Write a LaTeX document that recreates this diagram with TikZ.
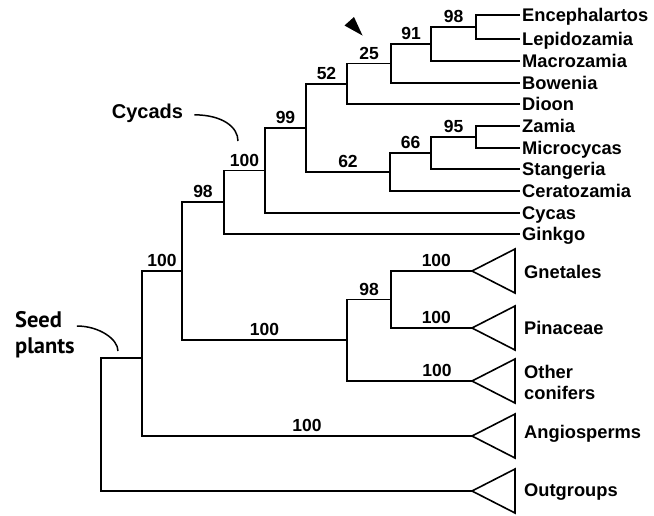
\documentclass[tikz,border=0pt]{standalone}
\usepackage{fontspec}
\newfontfamily\taxfont{Liberation Sans}
\newfontfamily\grpfont{PT Sans}
\begin{document}
\begin{tikzpicture}[x=1pt, y=-1pt, line join=miter,
    branch/.style={line width=1.6pt},
    lead/.style={line width=1.5pt},
    tax/.style={anchor=west, inner xsep=2pt, inner ysep=0pt, text height=13pt, text depth=0pt,
      font=\taxfont\bfseries\fontsize{18.3}{20}\selectfont},
    grp/.style={anchor=west, inner sep=0pt, align=left,
      font=\taxfont\bfseries\fontsize{18.3}{21}\selectfont},
    bs/.style={anchor=south, inner sep=0pt, yshift=3.5pt, pos=0.75,
      font=\taxfont\bfseries\fontsize{17.5}{18}\selectfont},
    lbl/.style={inner sep=0pt, align=left, font=\grpfont\bfseries\fontsize{22.5}{26}\selectfont}]
  \useasboundingbox (0,0) rectangle (654,515);
  \node[tax] (tEnc) at (520,15) {Encephalartos};
  \node[tax] (tLep) at (520,39) {Lepidozamia};
  \node[tax] (tMac) at (520,61) {Macrozamia};
  \node[tax] (tBow) at (520,83) {Bowenia};
  \node[tax] (tDio) at (520,104) {Dioon};
  \node[tax] (tZam) at (520,126) {Zamia};
  \node[tax] (tMic) at (520,148) {Microcycas};
  \node[tax] (tSta) at (520,169) {Stangeria};
  \node[tax] (tCer) at (520,191) {Ceratozamia};
  \node[tax] (tCyc) at (520,213) {Cycas};
  \node[tax] (tGin) at (520,234) {Ginkgo};
  \coordinate (cGne) at (472,271);
  \coordinate (cPin) at (472,328);
  \coordinate (cOth) at (472,381);
  \coordinate (cAng) at (472,436);
  \coordinate (cOut) at (472,491);
  \foreach \c in {cGne,cPin,cOth,cAng,cOut}
    \draw[branch] (\c) -- ++(43,-22) -- ++(0,44) -- cycle;
  \node[grp] (gGne) at (524,272) {Gnetales};
  \node[grp] (gPin) at (524,328) {Pinaceae};
  \node[grp] (gOth) at (524,382.5) {Other\\conifers};
  \node[grp] (gAng) at (524,434) {Angiosperms};
  \node[grp] (gOut) at (524,492) {Outgroups};
  \coordinate (nEL) at (476,27);
  \coordinate (nM) at (431,44);
  \coordinate (nB) at (391,63.5);
  \coordinate (nD) at (347,84);
  \coordinate (nZM) at (476,137);
  \coordinate (nS) at (431,153);
  \coordinate (nC) at (390,172);
  \coordinate (n99) at (306,128);
  \coordinate (nCy) at (265,170.5);
  \coordinate (nGk) at (224,202);
  \coordinate (nGp) at (391,299.5);
  \coordinate (nCo) at (347,340);
  \coordinate (nGy) at (182,271);
  \coordinate (nSd) at (142,358);
  \coordinate (nRt) at (101,424.5);
  \draw[branch] (nEL) |- (tEnc);
  \draw[branch] (nEL) |- (tLep);
  \draw[branch] (nM) |- node[bs]{98} (nEL);
  \draw[branch] (nM) |- (tMac);
  \draw[branch] (nB) |- node[bs]{91} (nM);
  \draw[branch] (nB) |- (tBow);
  \draw[branch] (nD) |- node[bs]{25} (nB);
  \draw[branch] (nD) |- (tDio);
  \draw[branch] (nZM) |- (tZam);
  \draw[branch] (nZM) |- (tMic);
  \draw[branch] (nS) |- node[bs]{95} (nZM);
  \draw[branch] (nS) |- (tSta);
  \draw[branch] (nC) |- node[bs]{66} (nS);
  \draw[branch] (nC) |- (tCer);
  \draw[branch] (n99) |- node[bs]{52} (nD);
  \draw[branch] (n99) |- node[bs]{62} (nC);
  \draw[branch] (nCy) |- node[bs]{99} (n99);
  \draw[branch] (nCy) |- (tCyc);
  \draw[branch] (nGk) |- node[bs]{100} (nCy);
  \draw[branch] (nGk) |- (tGin);
  \draw[branch] (nGp) |- node[bs,pos=0.78]{100} (cGne);
  \draw[branch] (nGp) |- node[bs,pos=0.78]{100} (cPin);
  \draw[branch] (nCo) |- node[bs]{98} (nGp);
  \draw[branch] (nCo) |- node[bs,pos=0.86]{100} (cOth);
  \draw[branch] (nGy) |- node[bs]{98} (nGk);
  \draw[branch] (nGy) |- node[bs]{100} (nCo);
  \draw[branch] (nSd) |- node[bs]{100} (nGy);
  \draw[branch] (nSd) |- node[bs]{100} (cAng);
  \draw[branch] (nRt) |- (nSd);
  \draw[branch] (nRt) |- (cOut);
  \fill (344.5,25.5) -- (354,17) -- (362.5,35.5) -- cycle;
  \node[inner sep=0pt, anchor=base, font=\taxfont\bfseries\fontsize{20}{24}\selectfont] (aCyc) at (147.5,118) {Cycads};
  \node[lbl, anchor=west] (aSeed) at (15,335) {Seed\\plants};
  \coordinate (aCycEnd) at (238,141);
  \coordinate (aSeedEnd) at (118,351);
  \draw[lead] ([xshift=11pt,yshift=-2pt]aCyc.east) .. controls +(28,0) and +(0,-14) .. (aCycEnd);
  \draw[lead] ([xshift=2pt,yshift=-14.5pt]aSeed.north east) .. controls +(22,0) and +(0,-12) .. (aSeedEnd);
\end{tikzpicture}
\end{document}
